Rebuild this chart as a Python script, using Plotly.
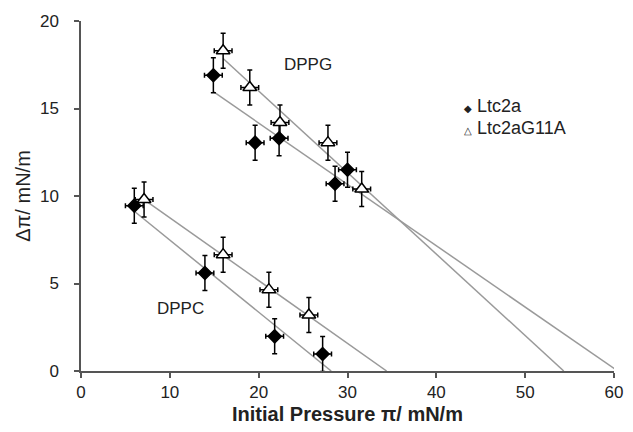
import numpy as np
import plotly.graph_objects as go

# ---- data ----
dppg_ltc2a_x = [14.9, 19.6, 22.3, 28.6, 30.0]
dppg_ltc2a_y = [16.9, 13.05, 13.3, 10.7, 11.5]
dppg_g11a_x = [16.0, 19.0, 22.4, 27.8, 31.6]
dppg_g11a_y = [18.3, 16.2, 14.2, 13.05, 10.4]
dppc_ltc2a_x = [6.0, 13.95, 21.8, 27.2]
dppc_ltc2a_y = [9.45, 5.6, 1.98, 0.97]
dppc_g11a_x = [7.1, 16.0, 21.15, 25.65]
dppc_g11a_y = [9.8, 6.65, 4.65, 3.2]
err_x = 1.0
err_y = 1.0
x_ticks = [0, 10, 20, 30, 40, 50, 60]
y_ticks = [0, 5, 10, 15, 20]
legend_names = ["Ltc2a", "Ltc2aG11A"]

fig = go.Figure()

# regression lines extended to the x-intercept
for xs, ys in [(dppg_ltc2a_x, dppg_ltc2a_y), (dppg_g11a_x, dppg_g11a_y),
               (dppc_ltc2a_x, dppc_ltc2a_y), (dppc_g11a_x, dppc_g11a_y)]:
    m, b = np.polyfit(xs, ys, 1)
    x0 = min(xs)
    x1 = -b / m
    fig.add_trace(go.Scatter(x=[x0, x1], y=[m * x0 + b, 0], mode="lines",
                             line=dict(color="#9a9a9a", width=1.5),
                             showlegend=False, hoverinfo="skip"))

def pts(xs, ys, symbol, fill, size):
    return go.Scatter(
        x=xs, y=ys, mode="markers", showlegend=False, cliponaxis=False,
        marker=dict(symbol=symbol, size=size, color=fill,
                    line=dict(color="black", width=1.5)),
        error_x=dict(type="constant", value=err_x, color="black", thickness=1.5, width=2.5),
        error_y=dict(type="constant", value=err_y, color="black", thickness=1.5, width=2.5),
    )

fig.add_trace(pts(dppg_ltc2a_x, dppg_ltc2a_y, "diamond", "black", 10))
fig.add_trace(pts(dppc_ltc2a_x, dppc_ltc2a_y, "diamond", "black", 10))
fig.add_trace(pts(dppg_g11a_x, dppg_g11a_y, "triangle-up", "white", 12))
fig.add_trace(pts(dppc_g11a_x, dppc_g11a_y, "triangle-up", "white", 12))

# legend drawn as text
legend_syms = ["◆", "△"]
for i, (sym, name) in enumerate(zip(legend_syms, legend_names)):
    fig.add_annotation(
        xref="paper", yref="paper", x=0.715, y=0.757 - i * 0.063,
        xanchor="left", yanchor="middle", showarrow=False,
        text=f"<span style='font-size:10px'>{sym}</span> {name}",
        font=dict(size=18, color="#222"))

fig.add_annotation(x=25.6, y=17.5, text="DPPG", showarrow=False,
                   font=dict(size=17, color="#222"))
fig.add_annotation(x=11.2, y=3.6, text="DPPC", showarrow=False,
                   font=dict(size=17, color="#222"))

axis_common = dict(showline=True, linecolor="#555", linewidth=1.5, ticks="outside",
                   ticklen=5, tickcolor="#555", tickwidth=1.5, showgrid=False,
                   zeroline=False, tickfont=dict(size=17, color="#222"))

fig.update_layout(
    width=633, height=432,
    margin=dict(l=81, r=10, t=21, b=60),
    paper_bgcolor="white", plot_bgcolor="white",
    font=dict(family="Liberation Sans, Arial, sans-serif", color="#222"),
    showlegend=False,
    xaxis=dict(range=[0, 60], tickvals=x_ticks,
               title=dict(text="<b>Initial Pressure π/ mN/m</b>", font=dict(size=20), standoff=6),
               **axis_common),
    yaxis=dict(range=[0, 20], tickvals=y_ticks, ticklabelstandoff=12,
               title=dict(text="Δπ/ mN/m", font=dict(size=20), standoff=4),
               **axis_common),
)

fig.write_html("out.html")
